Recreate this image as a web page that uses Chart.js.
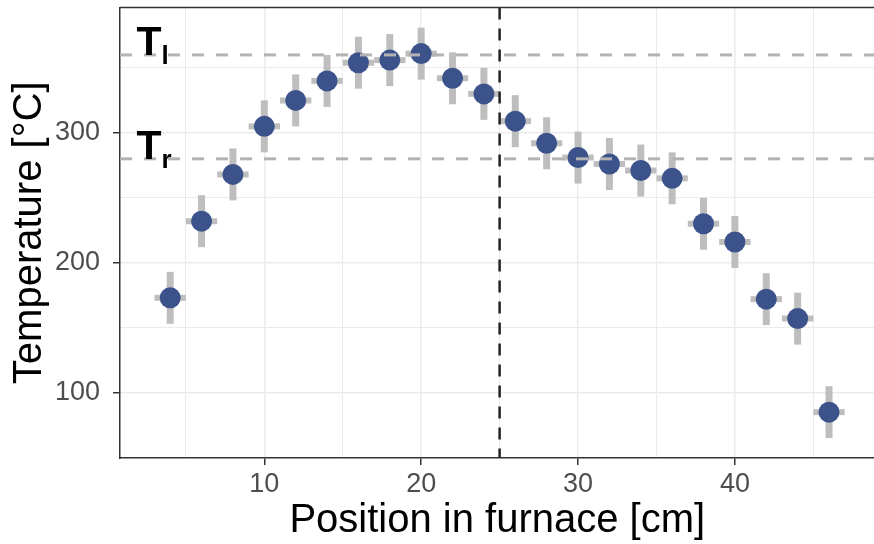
<!DOCTYPE html>
<html>
<head>
<meta charset="utf-8">
<script src="https://cdn.jsdelivr.net/npm/chart.js@4"></script>
<style>
  html, body { margin: 0; padding: 0; background: #fff; overflow: hidden; }
  #wrap { width: 885px; height: 547px; position: absolute; left: 0; top: -3px; }
</style>
</head>
<body>
<div id="wrap"><canvas id="myChart"></canvas></div>
<script>
// position in furnace [cm] and measured temperature [°C]
const positions = [4, 6, 8, 10, 12, 14, 16, 18, 20, 22, 24, 26, 28, 30, 32, 34, 36, 38, 40, 42, 44, 46];
const temps = [173, 232, 268, 305, 325, 340, 354, 356, 361, 342, 330, 309, 292, 281, 276, 271, 265, 230, 216, 172, 157, 85];
const tempErr = [20, 20, 20, 20, 20, 20, 20, 20, 20, 20, 20, 20, 20, 20, 20, 20, 20, 20, 20, 20, 20, 20];
const posErr = [1, 1, 1, 1, 1, 1, 1, 1, 1, 1, 1, 1, 1, 1, 1, 1, 1, 1, 1, 1, 1, 1];

const xTickLabels = [10, 20, 30, 40];
const yTickLabels = [100, 200, 300];

// reference lines
const tLiquidus = 360;
const tRef = 280;
const furnaceMid = 25;
const labelX = 1.85;

const FONT = "'Liberation Sans', Arial, sans-serif";

function noPadding(axis) {
  axis.paddingTop = 0;
  axis.paddingBottom = 0;
  axis.paddingLeft = 0;
  axis.paddingRight = 0;
}

const extras = {
  id: "extras",
  beforeDatasetsDraw(chart) {
    const { ctx, scales: { x, y } } = chart;
    ctx.save();
    ctx.strokeStyle = "#BEBEBE";
    ctx.lineCap = "butt";
    positions.forEach(function (p, i) {
      const px = x.getPixelForValue(p);
      const py = y.getPixelForValue(temps[i]);
      ctx.lineWidth = 7;
      ctx.beginPath();
      ctx.moveTo(px, y.getPixelForValue(temps[i] - tempErr[i]));
      ctx.lineTo(px, y.getPixelForValue(temps[i] + tempErr[i]));
      ctx.stroke();
      ctx.lineWidth = 6;
      ctx.beginPath();
      ctx.moveTo(x.getPixelForValue(p - posErr[i]), py);
      ctx.lineTo(x.getPixelForValue(p + posErr[i]), py);
      ctx.stroke();
    });
    ctx.restore();
  },
  afterDatasetsDraw(chart) {
    const { ctx, chartArea: ca, scales: { x, y } } = chart;
    ctx.save();
    ctx.beginPath();
    ctx.rect(ca.left, ca.top, ca.right - ca.left, ca.bottom - ca.top);
    ctx.clip();

    // grey dashed horizontal lines
    ctx.strokeStyle = "#B3B3B3";
    ctx.lineWidth = 3;
    ctx.setLineDash([12, 12]);
    [tLiquidus, tRef].forEach(function (t) {
      const py = y.getPixelForValue(t);
      ctx.beginPath();
      ctx.moveTo(ca.left, py);
      ctx.lineTo(ca.right, py);
      ctx.stroke();
    });

    // black dashed vertical line
    ctx.strokeStyle = "#222";
    ctx.lineWidth = 2.5;
    ctx.setLineDash([12, 9]);
    const vx = x.getPixelForValue(furnaceMid);
    ctx.beginPath();
    ctx.moveTo(vx, ca.top);
    ctx.lineTo(vx, ca.bottom);
    ctx.stroke();
    ctx.setLineDash([]);

    // T_l and T_r labels
    ctx.fillStyle = "#000";
    ctx.textBaseline = "alphabetic";
    ctx.textAlign = "left";
    [[tLiquidus, "l"], [tRef, "r"]].forEach(function (lab) {
      const lx = x.getPixelForValue(labelX);
      const ly = y.getPixelForValue(lab[0]);
      ctx.font = "bold 41px " + FONT;
      ctx.fillText("T", lx, ly);
      const w = ctx.measureText("T").width;
      ctx.font = "bold 26px " + FONT;
      ctx.fillText(lab[1], lx + w, ly + 9);
    });
    ctx.restore();
  },
  afterDraw(chart) {
    const { ctx, chartArea: ca } = chart;
    ctx.save();
    ctx.strokeStyle = "#333";
    ctx.lineWidth = 1.5;
    ctx.beginPath();
    ctx.moveTo(ca.left, ca.top);
    ctx.lineTo(ca.right, ca.top);
    ctx.stroke();
    ctx.restore();
  },
};

const ctx = document.querySelector("#myChart");
new Chart(ctx, {
  type: "scatter",
  data: {
    datasets: [
      {
        label: "Temperature",
        data: positions.map(function (p, i) {
          return { x: p, y: temps[i] };
        }),
        backgroundColor: "#3B528B",
        borderWidth: 0,
        pointRadius: 10.5,
        pointHoverRadius: 10.5,
      },
    ],
  },
  options: {
    responsive: true,
    maintainAspectRatio: false,
    animation: false,
    devicePixelRatio: 1,
    layout: { padding: { top: 4, right: 0, left: 0, bottom: 0 } },
    plugins: {
      legend: { display: false },
      tooltip: { enabled: false },
    },
    scales: {
      x: {
        type: "linear",
        min: 0.8,
        max: 48.9,
        afterFit: function (axis) {
          axis.height = 86;
          noPadding(axis);
        },
        border: { color: "#333", width: 1.5 },
        grid: {
          color: "#EBEBEB",
          lineWidth: function (c) {
            return c.tick && xTickLabels.includes(c.tick.value) ? 1.5 : 1;
          },
          tickLength: 7,
          tickColor: function (c) {
            return c.tick && xTickLabels.includes(c.tick.value) ? "#333" : "rgba(0,0,0,0)";
          },
          tickWidth: 1.5,
        },
        ticks: {
          stepSize: 5,
          includeBounds: false,
          autoSkip: false,
          maxRotation: 0,
          padding: 3,
          color: "#4D4D4D",
          font: { family: FONT, size: 27 },
          callback: function (v) {
            return xTickLabels.includes(v) ? String(v) : "";
          },
        },
        title: {
          display: true,
          text: "Position in furnace [cm]",
          color: "#000",
          font: { family: FONT, size: 40, lineHeight: 1 },
          padding: { top: 0, bottom: 3 },
        },
      },
      y: {
        type: "linear",
        min: 49.7,
        max: 396.5,
        afterFit: function (axis) {
          axis.width = 120;
          noPadding(axis);
        },
        border: { color: "#333", width: 1.5 },
        grid: {
          color: "#EBEBEB",
          lineWidth: function (c) {
            return c.tick && yTickLabels.includes(c.tick.value) ? 1.5 : 1;
          },
          tickLength: 7,
          tickColor: function (c) {
            return c.tick && yTickLabels.includes(c.tick.value) ? "#333" : "rgba(0,0,0,0)";
          },
          tickWidth: 1.5,
        },
        ticks: {
          stepSize: 50,
          includeBounds: false,
          autoSkip: false,
          padding: 13,
          color: "#4D4D4D",
          font: { family: FONT, size: 27 },
          callback: function (v) {
            return yTickLabels.includes(v) ? String(v) : "";
          },
        },
        title: {
          display: true,
          text: "Temperature [°C]",
          color: "#000",
          font: { family: FONT, size: 40, lineHeight: 1 },
          padding: { top: 10, bottom: 0 },
        },
      },
    },
  },
  plugins: [extras],
});
</script>
</body>
</html>
